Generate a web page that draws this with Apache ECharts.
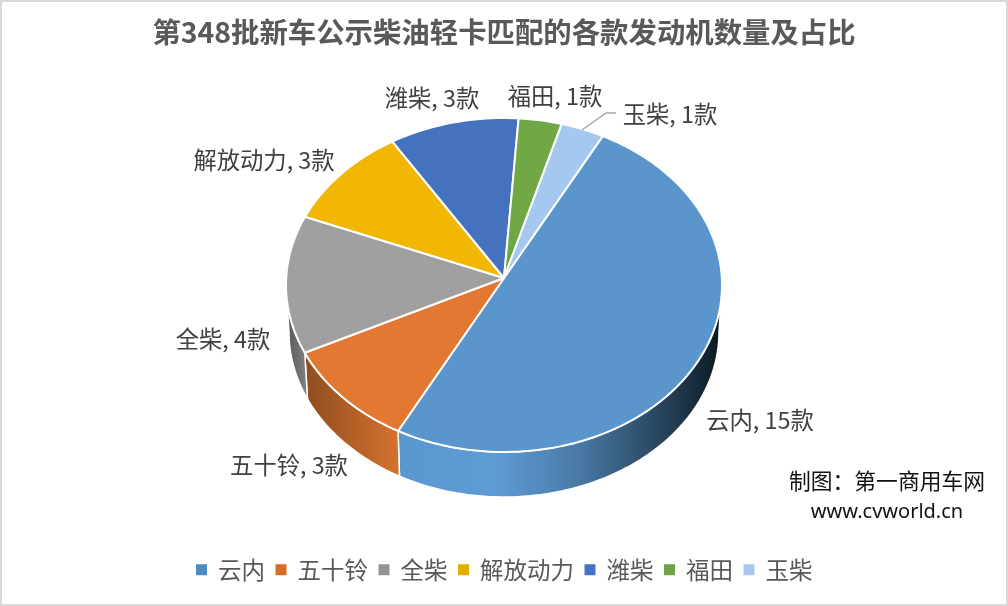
<!DOCTYPE html>
<html><head><meta charset="utf-8">
<style>html,body{margin:0;padding:0;background:#fff}#c{width:1008px;height:606px}</style>
<script src="https://cdn.jsdelivr.net/npm/echarts@6/dist/echarts.min.js"></script>
</head><body><div id="c"></div>
<script>
const titleText = '第348批新车公示柴油轻卡匹配的各款发动机数量及占比';
const categories = ['云内','五十铃','全柴','解放动力','潍柴','福田','玉柴'];
const counts = [15,3,4,3,3,1,1];

// styling & layout (kept apart from the data)
const topColors = ['#5A96CC','#E27832','#A0A0A0','#F2B705','#4472BE','#70A846','#A5C8F0'];
const legendColors = ['#4F8BC0','#D66C28','#949494','#E5AC00','#4472C4','#6EA345','#A5C7EE'];
const wallStops = [
  [[0,'#5A96CF'],[0.3,'#5F9BD4'],[0.55,'#4A7BA8'],[0.85,'#233C52'],[1,'#0A1820']],
  [[0,'#8F4D1F'],[1,'#D4722E']],
  [[0,'#585858'],[1,'#808080']],
  null,null,null,null];
const wallRange = [[398,722],[305,398],[287,306]];
const labelPos = [[760,420],[289,465],[223,339],[264,160],[432,98],[555,96],[670,114]];
const apex = [504,278];
const topE = {cx:504,cy:285,rx:218,ry:167};
const botE = {cx:504,cy:332,rx:215,ry:165};
const startDeg = 28, skewDeg = 2.3;
const total = counts.reduce((a,b)=>a+b,0);
const CJK = '"Noto Sans CJK SC","Noto Sans",sans-serif';

function warp(deg){ return deg - skewDeg*Math.sin(deg*Math.PI/180); }
function pt(e,deg){ const r=deg*Math.PI/180; return [e.cx+e.rx*Math.sin(r), e.cy-e.ry*Math.cos(r)]; }
function arcPts(e,a,b){ const n=Math.max(2,Math.ceil(Math.abs(b-a)/1.5)), out=[];
  for(let i=0;i<=n;i++) out.push(pt(e,a+(b-a)*i/n)); return out; }

let acc=0;
const series = categories.map((name,i)=>{
  const a0 = startDeg + acc/total*360;
  acc += counts[i];
  const a1 = startDeg + acc/total*360;
  return {
    type:'custom', name, coordinateSystem:'none', silent:true, animation:false,
    itemStyle:{color:legendColors[i]},
    data:[{name,value:counts[i]}],
    renderItem(){
      const s=warp(a0), e=warp(a1), children=[];
      // visible side wall: the part of the slice on the front half
      const lo=Math.max(s,90), hi=Math.min(e,270);
      if(hi>lo && wallStops[i]){
        const pts=arcPts(topE,lo,hi).concat(arcPts(botE,hi,lo));
        children.push({type:'polygon',shape:{points:pts},style:{
          fill:{type:'linear',x:wallRange[i][0],y:0,x2:wallRange[i][1],y2:0,global:true,colorStops:wallStops[i].map(c=>({offset:c[0],color:c[1]}))},
          stroke:'#fff',lineWidth:1.5,lineJoin:'round'}});
      }
      children.push({type:'polygon',shape:{points:[apex].concat(arcPts(topE,s,e))},
        style:{fill:topColors[i],stroke:'#fff',lineWidth:2,lineJoin:'round'}});
      if(i===categories.length-1){
        children.push({type:'polyline',shape:{points:[[582,130],[606,113],[616,113]]},
          style:{stroke:'#A6A6A6',lineWidth:1.5,fill:null}});
      }
      children.push({type:'text',style:{text:`${name}, ${counts[i]}款`,x:labelPos[i][0],y:labelPos[i][1],
        align:'center',verticalAlign:'middle',fill:'#404040',font:`23.3px ${CJK}`},z2:50});
      return {type:'group',children};
    }
  };
});

const chart = echarts.init(document.getElementById('c'),null,{renderer:'canvas'});
chart.setOption({
  backgroundColor:'#fff',
  animation:false,
  title:{text:titleText,left:'center',top:13,textStyle:{fontFamily:CJK,fontSize:28.4,fontWeight:'bold',color:'#595959'}},
  legend:{left:196,top:558,padding:0,itemWidth:11,itemHeight:11,itemGap:10.5,icon:'rect',
    data:categories.map((n,i)=>({name:n,itemStyle:{color:legendColors[i]}})),
    textStyle:{fontFamily:CJK,fontSize:23.5,color:'#595959',padding:[0,0,0,6]},selectedMode:false},
  graphic:[
    {type:'rect',shape:{x:1,y:1,width:1006,height:604},style:{fill:null,stroke:'#D9D9D9',lineWidth:2},silent:true},
    {type:'text',style:{text:'制图：第一商用车网',x:887,y:481,align:'center',verticalAlign:'middle',fill:'#111111',font:`21.8px ${CJK}`}},
    {type:'text',style:{text:'www.cvworld.cn',x:887,y:512,align:'center',verticalAlign:'middle',fill:'#111111',font:'20px "Noto Sans",sans-serif'}}
  ],
  series
});
</script></body></html>
